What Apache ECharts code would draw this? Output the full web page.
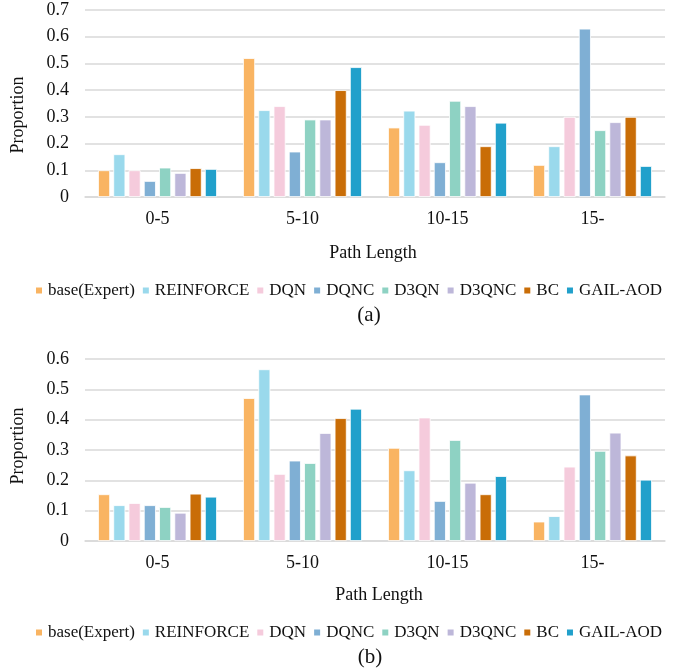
<!DOCTYPE html>
<html>
<head>
<meta charset="utf-8">
<script src="https://cdn.jsdelivr.net/npm/echarts@6/dist/echarts.min.js"></script>
<style>
html, body { margin: 0; padding: 0; background: #fff; }
#main { width: 684px; height: 668px; }
</style>
</head>
<body>
<div id="main"></div>
<script>
var categories = ['0-5', '5-10', '10-15', '15-']
var methods = ['base(Expert)', 'REINFORCE', 'DQN', 'DQNC', 'D3QN', 'D3QNC', 'BC', 'GAIL-AOD']
var colors = ['#F9B462', '#9AD9EC', '#F5CBDC', '#7FAFD4', '#8ED2C3', '#BDB7D9', '#C96D07', '#21A0CB']

// (a) proportion per path length
var dataA = [
    [0.10, 0.52, 0.26, 0.12],
    [0.16, 0.325, 0.323, 0.19],
    [0.10, 0.34, 0.27, 0.30],
    [0.06, 0.17, 0.13, 0.63],
    [0.11, 0.29, 0.36, 0.25],
    [0.09, 0.29, 0.34, 0.28],
    [0.108, 0.40, 0.19, 0.30],
    [0.105, 0.486, 0.278, 0.116]
]
// (b)
var dataB = [
    [0.154, 0.471, 0.307, 0.064],
    [0.118, 0.566, 0.233, 0.082],
    [0.125, 0.221, 0.407, 0.245],
    [0.118, 0.265, 0.132, 0.483],
    [0.112, 0.257, 0.333, 0.297],
    [0.093, 0.356, 0.192, 0.357],
    [0.156, 0.405, 0.154, 0.282],
    [0.146, 0.436, 0.214, 0.202]
]
var yTicksA = { max: 0.7, interval: 0.1 }
var yTicksB = { max: 0.6, interval: 0.1 }

var font = "'Liberation Serif', 'Times New Roman', serif"
var txt = { fontFamily: font, fontSize: 18, color: '#111', fontWeight: 'normal' }

var myChart = echarts.init(document.getElementById('main'))

function xAxis(idx) {
    return {
        type: 'category',
        gridIndex: idx,
        data: categories,
        axisTick: { show: false },
        axisLine: { lineStyle: { color: '#d9d9d9', width: 1.5 } },
        axisLabel: Object.assign({ margin: 13 }, txt)
    }
}
function yAxis(idx, t) {
    return {
        type: 'value',
        gridIndex: idx,
        min: 0,
        max: t.max,
        interval: t.interval,
        axisLine: { show: false },
        axisTick: { show: false },
        splitLine: { lineStyle: { color: '#d9d9d9', width: 1.5 } },
        axisLabel: Object.assign({ margin: 16, formatter: function (v) { return v === 0 ? '0' : v.toFixed(1) } }, txt)
    }
}

var series = []
methods.forEach(function (m, i) {
    [dataA, dataB].forEach(function (d, k) {
        series.push({
            name: m,
            type: 'bar',
            xAxisIndex: k,
            yAxisIndex: k,
            data: d[i],
            barGap: '27%',
            barCategoryGap: '18%',
            itemStyle: { color: colors[i], borderColor: '#fff', borderWidth: 0.8 },
            emphasis: { disabled: true }
        })
    })
})

function legend(top) {
    return {
        data: methods,
        left: 29,
        top: top,
        width: 670,
        itemWidth: 8,
        itemHeight: 8,
        itemGap: 6,
        icon: 'rect',
        selectedMode: false,
        textStyle: Object.assign({}, txt, { fontSize: 17 })
    }
}

function vlabel(y) {
    return {
        type: 'text', x: 18, y: y, rotation: Math.PI / 2,
        style: { text: 'Proportion', font: '18px ' + font, fill: '#111', align: 'center', verticalAlign: 'middle' }
    }
}

var option = {
    animation: false,
    color: colors,
    grid: [
        { left: 85, right: 19, top: 10, height: 187 },
        { left: 85, right: 19, top: 359, height: 182 }
    ],
    xAxis: [xAxis(0), xAxis(1)],
    yAxis: [yAxis(0, yTicksA), yAxis(1, yTicksB)],
    legend: [legend(277), legend(619)],
    title: [
        { text: 'Path Length', left: 368, top: 239, textAlign: 'center', textStyle: txt },
        { text: '(a)', left: 364, top: 300, textAlign: 'center', textStyle: Object.assign({}, txt, { fontSize: 21 }) },
        { text: 'Path Length', left: 374, top: 581, textAlign: 'center', textStyle: txt },
        { text: '(b)', left: 365, top: 642, textAlign: 'center', textStyle: Object.assign({}, txt, { fontSize: 21 }) }
    ],
    graphic: [vlabel(115), vlabel(446)],
    series: series
}
myChart.setOption(option)
</script>
</body>
</html>
